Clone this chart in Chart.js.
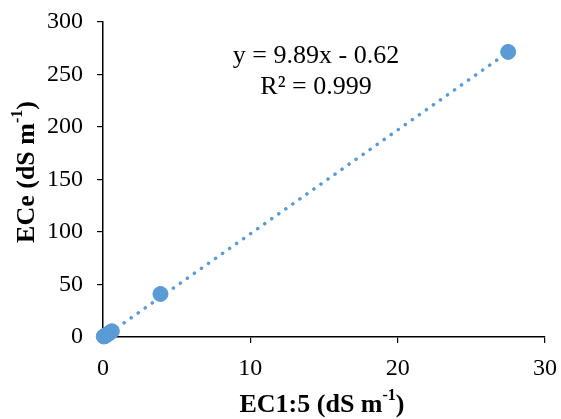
<!DOCTYPE html>
<html>
<head>
<meta charset="utf-8">
<script src="https://cdn.jsdelivr.net/npm/chart.js@4.4.1/dist/chart.umd.min.js"></script>
<style>
  html, body { margin: 0; padding: 0; background: #fff; }
  #wrap { width: 561px; height: 419px; }
</style>
</head>
<body>
<div id="wrap"><canvas id="myChart" width="561" height="419"></canvas></div>
<script>
// EC1:5 (x) and ECe (y)
var ec15 = [0.05, 0.1, 0.15, 0.2, 0.3, 0.4, 0.5, 0.6, 3.9, 27.5];
var ece = [0.5, 0.8, 1.2, 1.6, 2.4, 3.5, 4.5, 5.5, 41, 271.5];
var xTicks = [0, 10, 20, 30];
var yTicks = [0, 50, 100, 150, 200, 250, 300];
// trendline shown on the chart
var slope = 9.89;
var intercept = -0.62;
var trendX = [0, 27.5];

var blue = '#5B9BD5';
var serif = '"Liberation Serif", "Times New Roman", serif';

// axis titles with superscript + equation label
var textPlugin = {
    id: 'textPlugin',
    afterDraw: function (chart) {
        var ctx = chart.ctx;
        ctx.save();
        ctx.fillStyle = '#000';

        // equation
        ctx.font = '26px ' + serif;
        ctx.textAlign = 'center';
        ctx.textBaseline = 'middle';
        ctx.fillText('y = 9.89x - 0.62', 316, 56);
        ctx.fillText('R² = 0.999', 316, 87);

        // x title
        drawTitle(ctx, 'EC1:5 (dS m', '-1', ')', 322, 405);

        // y title
        ctx.translate(27, 172);
        ctx.rotate(-Math.PI / 2);
        drawTitle(ctx, 'ECe (dS m', '-1', ')', 0, 0);
        ctx.restore();
    }
};

function drawTitle(ctx, a, sup, b, cx, cy) {
    var big = 'bold 26px ' + serif;
    var small = 'bold 16px ' + serif;
    ctx.font = big;
    var wa = ctx.measureText(a).width;
    var wb = ctx.measureText(b).width;
    ctx.font = small;
    var ws = ctx.measureText(sup).width;
    var x = cx - (wa + ws + wb) / 2;
    ctx.textAlign = 'left';
    ctx.textBaseline = 'middle';
    ctx.font = big;
    ctx.fillText(a, x, cy);
    ctx.font = small;
    ctx.fillText(sup, x + wa, cy - 9);
    ctx.font = big;
    ctx.fillText(b, x + wa + ws, cy);
}

var ctx = document.getElementById('myChart').getContext('2d');
var myChart = new Chart(ctx, {
    type: 'scatter',
    data: {
        datasets: [{
            label: 'ECe',
            data: ec15.map(function (v, i) { return { x: v, y: ece[i] }; }),
            backgroundColor: blue,
            borderColor: blue,
            pointRadius: 7.5,
            pointHoverRadius: 7.5,
            clip: false,
            order: 1
        }, {
            type: 'line',
            label: 'Trend',
            data: trendX.map(function (v) { return { x: v, y: slope * v + intercept }; }),
            borderColor: blue,
            borderWidth: 3.5,
            borderDash: [0.1, 8.5],
            borderCapStyle: 'round',
            pointRadius: 0,
            fill: false,
            order: 2
        }]
    },
    options: {
        responsive: false,
        animation: false,
        layout: { padding: { left: 0, right: 16, top: 22, bottom: 0 } },
        plugins: {
            legend: { display: false },
            tooltip: { enabled: false }
        },
        scales: {
            x: {
                type: 'linear',
                min: 0,
                max: 30,
                afterFit: function (scale) {
                    scale.height = 82;
                    scale.paddingLeft = 0;
                    scale.paddingRight = 0;
                },
                afterBuildTicks: function (scale) {
                    scale.ticks = xTicks.map(function (v) { return { value: v }; });
                },
                grid: { drawOnChartArea: false, drawTicks: true, tickLength: 6, color: '#000', lineWidth: 1.2 },
                border: { color: '#000', width: 1.5 },
                ticks: { color: '#000', font: { family: serif, size: 24 }, padding: 11, maxRotation: 0 }
            },
            y: {
                type: 'linear',
                min: 0,
                max: 300,
                afterFit: function (scale) {
                    scale.width = 103;
                    scale.paddingTop = 0;
                    scale.paddingBottom = 0;
                },
                afterBuildTicks: function (scale) {
                    scale.ticks = yTicks.map(function (v) { return { value: v }; });
                },
                grid: { drawOnChartArea: false, drawTicks: true, tickLength: 6, color: '#000', lineWidth: 1.2 },
                border: { color: '#000', width: 1.5 },
                ticks: { color: '#000', font: { family: serif, size: 24 }, padding: 14 }
            }
        }
    },
    plugins: [textPlugin]
});
</script>
</body>
</html>
